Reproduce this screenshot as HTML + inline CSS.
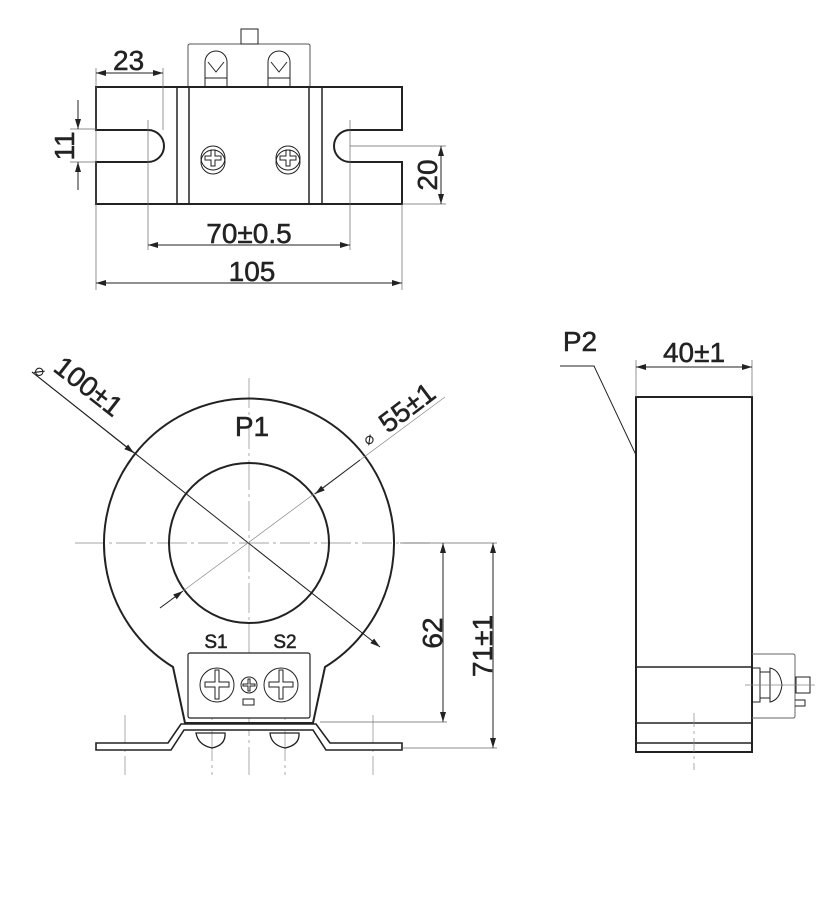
<!DOCTYPE html>
<html><head><style>
html,body{margin:0;padding:0;background:#fff;}
svg{display:block;}
text{font-family:"Liberation Sans",sans-serif;fill:#222;stroke:#222;stroke-width:0.5;}
</style></head><body>
<svg width="840" height="905" viewBox="0 0 840 905" xmlns="http://www.w3.org/2000/svg">
<defs>
<marker id="a" viewBox="0 0 10 6" refX="10" refY="3" markerWidth="10" markerHeight="6" orient="auto-start-reverse" markerUnits="userSpaceOnUse"><path d="M0,0L10,3L0,6z" fill="#222"/></marker>
</defs>
<g fill="none" stroke="#222">
<!-- TOP VIEW -->
<path d="M188,87 V46 Q188,44 190,44 H308 Q310,44 310,46 V87" stroke-width="1" stroke="#555"/>
<rect x="241" y="29" width="17" height="15" stroke-width="1"/>
<path d="M96,87 H402 V130 H350 A16,16 0 0 0 350,162 H402 V204 H96 V162 H148 A16,16 0 0 0 148,130 H96 Z" stroke-width="2"/>
<line x1="177" y1="87" x2="177" y2="204" stroke-width="1.5"/>
<line x1="189" y1="87" x2="189" y2="204" stroke-width="1.5"/>
<line x1="309" y1="87" x2="309" y2="204" stroke-width="1.5"/>
<line x1="322" y1="87" x2="322" y2="204" stroke-width="1.5"/>
<g stroke-width="1">
<path d="M205,87 V62 A10,10 0 0 1 227,62 V87"/><line x1="205" y1="78" x2="227" y2="78"/><path d="M208,62 L216,72 L224,62"/>
<path d="M268,87 V62 A10,10 0 0 1 290,62 V87"/><line x1="268" y1="78" x2="290" y2="78"/><path d="M271,62 L279,72 L287,62"/>
<circle cx="213" cy="158" r="12"/><circle cx="213" cy="162" r="12"/><path d="M211,150 h4 v6 h6 v4 h-6 v6 h-4 v-6 h-6 v-4 h6z"/>
<circle cx="288" cy="158" r="12"/><circle cx="288" cy="162" r="12"/><path d="M286,150 h4 v6 h6 v4 h-6 v6 h-4 v-6 h-6 v-4 h6z"/>
</g>
<g stroke-width="0.7" stroke="#666">
<line x1="96" y1="68" x2="96" y2="290"/><line x1="402" y1="204" x2="402" y2="290"/>
<line x1="163" y1="68" x2="163" y2="130"/>
<line x1="148" y1="120" x2="148" y2="250"/><line x1="350" y1="120" x2="350" y2="250"/>
<line x1="70" y1="129" x2="96" y2="129"/><line x1="70" y1="162" x2="96" y2="162"/>
<line x1="350" y1="146" x2="446" y2="146"/><line x1="402" y1="204" x2="446" y2="204"/>
</g>
<g stroke-width="1">
<line x1="96" y1="73" x2="163" y2="73" marker-start="url(#a)" marker-end="url(#a)"/>
<line x1="78" y1="100" x2="78" y2="129" marker-end="url(#a)"/>
<line x1="78" y1="190" x2="78" y2="162" marker-end="url(#a)"/>
<line x1="441" y1="146" x2="441" y2="204" marker-start="url(#a)" marker-end="url(#a)"/>
<line x1="148" y1="245" x2="350" y2="245" marker-start="url(#a)" marker-end="url(#a)"/>
<line x1="96" y1="283" x2="402" y2="283" marker-start="url(#a)" marker-end="url(#a)"/>
</g>
<!-- FRONT VIEW -->
<g stroke-width="0.7" stroke="#888" stroke-dasharray="30,4,3,4">
<line x1="75" y1="543" x2="430" y2="543"/>
<line x1="249" y1="378" x2="249" y2="775"/>
<line x1="125" y1="715" x2="125" y2="775"/><line x1="373" y1="715" x2="373" y2="775"/>
<line x1="212" y1="690" x2="212" y2="775"/><line x1="285" y1="690" x2="285" y2="775"/>
</g>
<path d="M173,667 A145,145 0 1 1 325,667 L313,723 H185 Z" stroke-width="2"/>
<circle cx="249" cy="543" r="80" stroke-width="2"/>
<rect x="188" y="653" width="122" height="65" rx="2" stroke-width="1.2" fill="#fff"/>
<g stroke-width="1">
<circle cx="217" cy="685" r="17"/><path d="M215,670 h4 v12 h10 v5 h-10 v12 h-4 v-12 h-10 v-5 h10z"/>
<circle cx="281" cy="685" r="17"/><path d="M279,670 h4 v12 h10 v5 h-10 v12 h-4 v-12 h-10 v-5 h10z"/>
<circle cx="249" cy="685" r="8"/><path d="M248,679 h2 v5 h5 v2 h-5 v5 h-2 v-5 h-5 v-2 h5z"/>
<rect x="243" y="699" width="11" height="6"/>
</g>
<path d="M96,743 H168 L181,724 H316 L330,743 H402 V750 H326 L313,730 H184 L171,750 H96 Z" stroke-width="1.6" fill="#fff"/>
<path d="M196,733 H225 Q226,745 212,748 Q198,745 196,733Z M270,733 H299 Q300,745 285,748 Q271,745 270,733Z" stroke-width="1.3"/>
<g stroke-width="1">
<line x1="32" y1="372" x2="380" y2="647" marker-end="url(#a)"/>
<line x1="32" y1="372" x2="134" y2="453" marker-end="url(#a)"/>
</g>
<g stroke-width="0.7" stroke="#888">
<line x1="445" y1="397" x2="160" y2="608"/>
</g>
<g stroke-width="1">
<line x1="360" y1="460" x2="315" y2="494" marker-end="url(#a)"/>
<line x1="160" y1="608" x2="183" y2="591" marker-end="url(#a)"/>
</g>
<g stroke-width="0.7" stroke="#666">
<line x1="400" y1="543" x2="497" y2="543"/><line x1="320" y1="722" x2="447" y2="722"/><line x1="402" y1="748" x2="497" y2="748"/>
</g>
<g stroke-width="1">
<line x1="443" y1="543" x2="443" y2="722" marker-start="url(#a)" marker-end="url(#a)"/>
<line x1="493" y1="543" x2="493" y2="748" marker-start="url(#a)" marker-end="url(#a)"/>
</g>
<!-- SIDE VIEW -->
<rect x="636" y="397" width="116" height="355" stroke-width="2"/>
<line x1="636" y1="667" x2="752" y2="667" stroke-width="1.5"/>
<line x1="636" y1="723" x2="752" y2="723" stroke-width="1.5"/>
<line x1="636" y1="743" x2="752" y2="743" stroke-width="1.5"/>
<path d="M752,654 H793 Q795,654 795,656 V716 Q795,718 793,718 H752" stroke-width="1" stroke="#666"/>
<path d="M753,668 H760 V702 H753 M760,672 H770 V698 H760 M770,668 Q780,670 782,685 Q780,700 770,702 Z M796,677 H810 V693 H796Z M795,700 H805 V706 H795" stroke-width="1"/>
<line x1="745" y1="685" x2="815" y2="685" stroke-width="0.7" stroke="#888"/>
<line x1="694" y1="713" x2="694" y2="770" stroke-width="0.7" stroke="#888" stroke-dasharray="14,4,3,4"/>
<g stroke-width="0.7" stroke="#666"><line x1="636" y1="360" x2="636" y2="397"/><line x1="752" y1="360" x2="752" y2="397"/></g>
<line x1="636" y1="367" x2="752" y2="367" stroke-width="1" marker-start="url(#a)" marker-end="url(#a)"/>
<path d="M560,366 H594 L636,455" stroke-width="1"/>
</g>
<g font-size="28">
<text x="113" y="70">23</text>
<text x="0" y="0" transform="translate(74,146) rotate(-90)" text-anchor="middle">11</text>
<text x="0" y="0" transform="translate(437,175) rotate(-90)" text-anchor="middle">20</text>
<text x="249" y="243" text-anchor="middle">70±0.5</text>
<text x="252" y="281" text-anchor="middle">105</text>
<text x="252" y="436" text-anchor="middle">P1</text>
<text x="216" y="648" text-anchor="middle" font-size="19">S1</text>
<text x="285" y="648" text-anchor="middle" font-size="19">S2</text>
<text transform="translate(52,370) rotate(38)">100±1</text>
<text transform="translate(33,372) rotate(38)" font-size="16" style="stroke-width:0">⌀</text>
<text transform="translate(388,434) rotate(-37)">55±1</text>
<text transform="translate(368,446) rotate(-37)" font-size="16" style="stroke-width:0">⌀</text>
<text transform="translate(442,633) rotate(-90)" text-anchor="middle">62</text>
<text transform="translate(492,646) rotate(-90)" text-anchor="middle">71±1</text>
<text x="580" y="351" text-anchor="middle">P2</text>
<text x="694" y="362" text-anchor="middle">40±1</text>
</g>
</svg>
</body></html>
